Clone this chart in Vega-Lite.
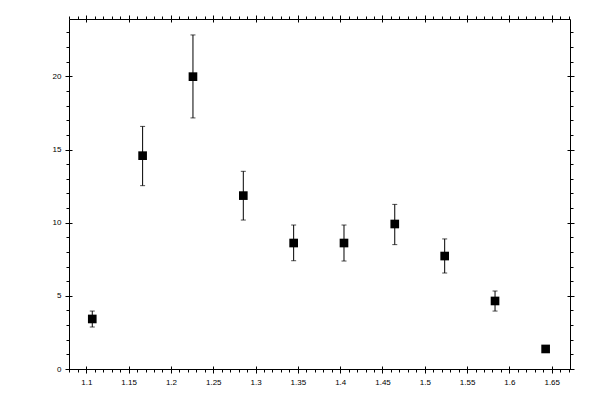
{
  "$schema": "https://vega.github.io/schema/vega-lite/v6.json",
  "width": 501,
  "height": 350,
  "autosize": "none",
  "padding": {"left": 69, "top": 19, "right": 30, "bottom": 31},
  "background": "white",
  "data": {
    "values": [
      {"x": 1.107, "y": 3.42, "lo": 2.87, "hi": 3.96},
      {"x": 1.1665, "y": 14.58, "lo": 12.53, "hi": 16.58},
      {"x": 1.226, "y": 19.98, "lo": 17.16, "hi": 22.83},
      {"x": 1.2855, "y": 11.85, "lo": 10.18, "hi": 13.51},
      {"x": 1.345, "y": 8.61, "lo": 7.4, "hi": 9.84},
      {"x": 1.4045, "y": 8.61, "lo": 7.38, "hi": 9.84},
      {"x": 1.4645, "y": 9.91, "lo": 8.5, "hi": 11.25},
      {"x": 1.5235, "y": 7.72, "lo": 6.56, "hi": 8.89},
      {"x": 1.583, "y": 4.65, "lo": 3.96, "hi": 5.33},
      {"x": 1.6428, "y": 1.37, "lo": 1.15, "hi": 1.6}
    ]
  },
  "resolve": {"axis": {"x": "independent", "y": "independent"}},
  "layer": [
    {
      "mark": {"type": "rule", "color": "black", "strokeWidth": 1},
      "encoding": {
        "x": {
          "field": "x", "type": "quantitative",
          "scale": {"domain": [1.0795, 1.6716], "nice": false, "zero": false},
          "axis": {"orient": "bottom", "title": null, "values": [1.1, 1.15, 1.2, 1.25, 1.3, 1.35, 1.4, 1.45, 1.5, 1.55, 1.6, 1.65], "format": ".2~f", "tickSize": 7, "offset": -3, "domain": false, "labelPadding": 5}
        },
        "y": {
          "field": "lo", "type": "quantitative",
          "scale": {"domain": [0, 23.92], "nice": false, "zero": false},
          "axis": {"orient": "left", "title": null, "values": [0, 5, 10, 15, 20], "format": "d", "tickSize": 7, "offset": -3, "domain": false, "labelPadding": 4}
        },
        "y2": {"field": "hi"}
      }
    },
    {
      "mark": {"type": "tick", "orient": "horizontal", "color": "black", "size": 5, "thickness": 1},
      "encoding": {
        "x": {
          "field": "x", "type": "quantitative",
          "axis": {"orient": "bottom", "title": null, "values": [1.08, 1.09, 1.1, 1.11, 1.12, 1.13, 1.14, 1.15, 1.16, 1.17, 1.18, 1.19, 1.2, 1.21, 1.22, 1.23, 1.24, 1.25, 1.26, 1.27, 1.28, 1.29, 1.3, 1.31, 1.32, 1.33, 1.34, 1.35, 1.36, 1.37, 1.38, 1.39, 1.4, 1.41, 1.42, 1.43, 1.44, 1.45, 1.46, 1.47, 1.48, 1.49, 1.5, 1.51, 1.52, 1.53, 1.54, 1.55, 1.56, 1.57, 1.58, 1.59, 1.6, 1.61, 1.62, 1.63, 1.64, 1.65, 1.66, 1.67], "tickSize": 3, "labels": false, "domain": true}
        },
        "y": {
          "field": "lo", "type": "quantitative",
          "axis": {"orient": "left", "title": null, "values": [0, 1, 2, 3, 4, 5, 6, 7, 8, 9, 10, 11, 12, 13, 14, 15, 16, 17, 18, 19, 20, 21, 22, 23], "tickSize": 3, "labels": false, "domain": true}
        }
      }
    },
    {
      "mark": {"type": "tick", "orient": "horizontal", "color": "black", "size": 5, "thickness": 1},
      "encoding": {
        "x": {
          "field": "x", "type": "quantitative",
          "axis": {"orient": "top", "title": null, "values": [1.1, 1.15, 1.2, 1.25, 1.3, 1.35, 1.4, 1.45, 1.5, 1.55, 1.6, 1.65], "tickSize": 7, "offset": -3, "domain": false, "labels": false}
        },
        "y": {
          "field": "hi", "type": "quantitative",
          "axis": {"orient": "right", "title": null, "values": [0, 5, 10, 15, 20], "tickSize": 7, "offset": -3, "domain": false, "labels": false}
        }
      }
    },
    {
      "mark": {"type": "square", "color": "black", "filled": true, "size": 75, "opacity": 1},
      "encoding": {
        "x": {
          "field": "x", "type": "quantitative",
          "axis": {"orient": "top", "title": null, "values": [1.08, 1.09, 1.1, 1.11, 1.12, 1.13, 1.14, 1.15, 1.16, 1.17, 1.18, 1.19, 1.2, 1.21, 1.22, 1.23, 1.24, 1.25, 1.26, 1.27, 1.28, 1.29, 1.3, 1.31, 1.32, 1.33, 1.34, 1.35, 1.36, 1.37, 1.38, 1.39, 1.4, 1.41, 1.42, 1.43, 1.44, 1.45, 1.46, 1.47, 1.48, 1.49, 1.5, 1.51, 1.52, 1.53, 1.54, 1.55, 1.56, 1.57, 1.58, 1.59, 1.6, 1.61, 1.62, 1.63, 1.64, 1.65, 1.66, 1.67], "tickSize": 3, "labels": false, "domain": true}
        },
        "y": {
          "field": "y", "type": "quantitative",
          "axis": {"orient": "right", "title": null, "values": [0, 1, 2, 3, 4, 5, 6, 7, 8, 9, 10, 11, 12, 13, 14, 15, 16, 17, 18, 19, 20, 21, 22, 23], "tickSize": 3, "labels": false, "domain": true}
        }
      }
    }
  ],
  "config": {
    "view": {"stroke": null},
    "axis": {
      "grid": false,
      "labelFont": "Liberation Sans",
      "labelFontSize": 8,
      "labelColor": "black",
      "tickColor": "black",
      "tickWidth": 1,
      "domainColor": "black",
      "domainWidth": 1,
      "labelOverlap": false,
      "labelFlush": false
    }
  }
}
